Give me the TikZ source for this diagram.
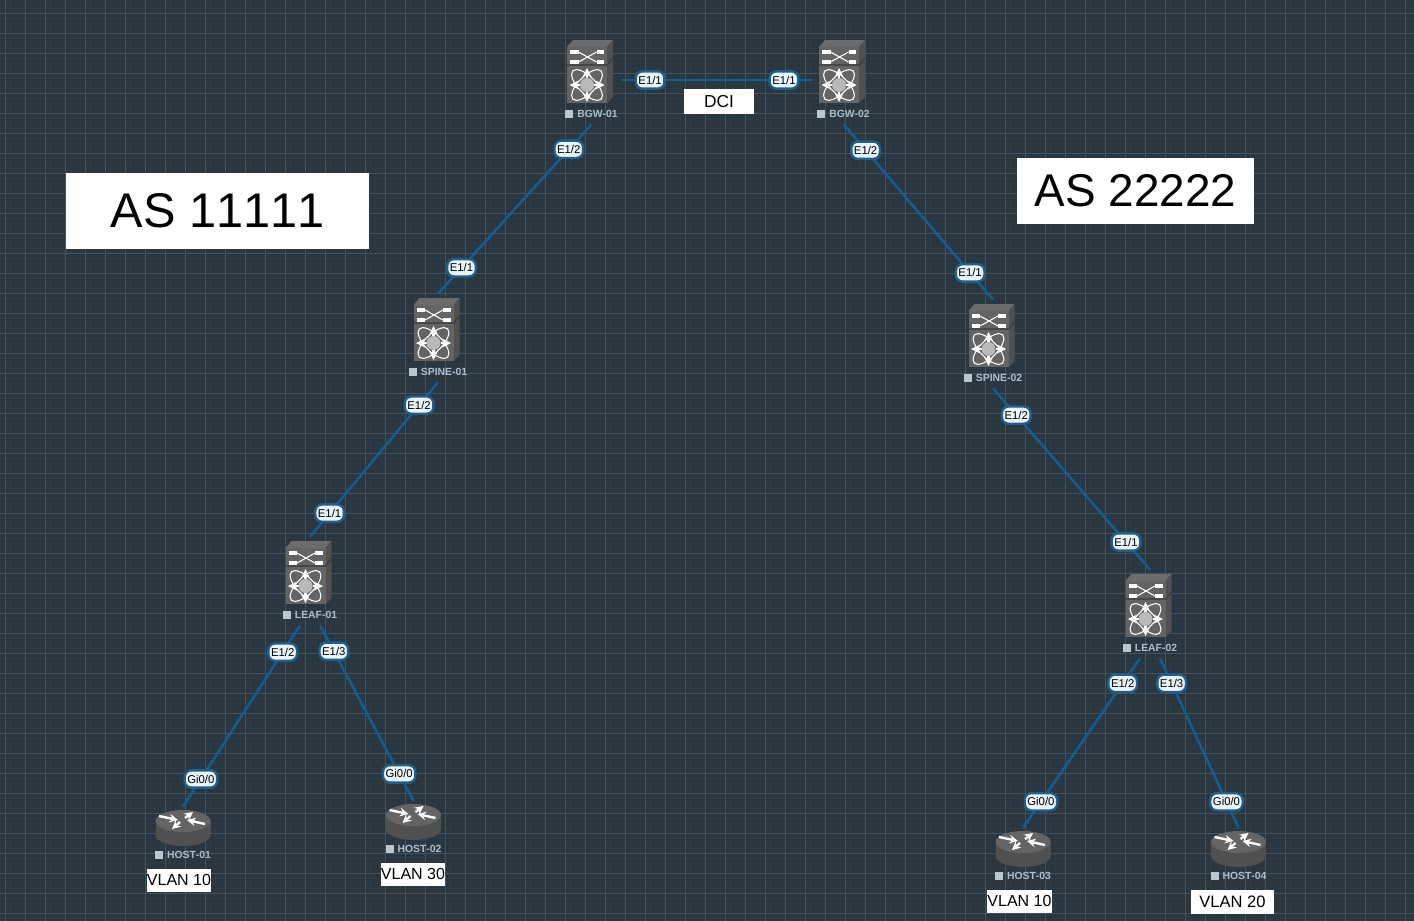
\documentclass[tikz,border=0pt]{standalone}
\usepackage{fontspec}
\usepackage{xcolor}
\usepackage{tikz}
\usetikzlibrary{arrows,calc,positioning}
\setmainfont[Kerning=Off]{Liberation Sans}

\definecolor{canvasbg}{HTML}{29353F}
\definecolor{gridminor}{HTML}{2D3943}
\definecolor{gridmajor}{HTML}{44535D}
\definecolor{linkblue}{HTML}{0F5F96}
\definecolor{ifaceedge}{HTML}{1F5F8C}
\definecolor{ifacefill}{HTML}{EAF4FA}
\definecolor{devtext}{HTML}{A9C0CC}
\definecolor{devsquare}{HTML}{B8C8D0}
\definecolor{iconfront}{HTML}{646464}
\definecolor{icontop}{HTML}{6C6C6C}
\definecolor{iconside}{HTML}{505050}
\definecolor{icondark}{HTML}{3A3A3A}

\newcommand{\devsq}{\textcolor{devsquare}{\rule{6pt}{6pt}}\hspace{3pt}}

\tikzset{
    nxos/.pic={
        \fill[icontop] (-24.5,-33) -- (-18.5,-40) -- (21.5,-40) -- (15.5,-33) -- cycle;
        \fill[iconside] (15.5,-33) -- (21.5,-40) -- (21.5,17) -- (15.5,23) -- cycle;
        \fill[iconfront] (-24.5,-33) rectangle (15.5,23);
        \draw[icondark, line width=0.9pt] (-24.5,-15) -- (15.5,-15) -- (21.5,-22);
        \draw[white, line width=2.6pt] (-21.5,-28) -- (-13,-28) (5,-28) -- (12.5,-28);
        \draw[white, line width=2.6pt] (-21.5,-18) -- (-13,-18) (5,-18) -- (12.5,-18);
        \draw[white, line width=0.8pt] (-13,-28) -- (5,-18) (-13,-18) -- (5,-28);
        \draw[white, line width=0.8pt, rotate around={45:(-4.5,5)}] (-4.5,5) ellipse [x radius=20, y radius=8.5];
        \draw[white, line width=0.8pt, rotate around={-45:(-4.5,5)}] (-4.5,5) ellipse [x radius=20, y radius=8.5];
        \draw[white, line width=1.9pt, ->, >=stealth] (-4.5,-2) -- (-4.5,-12);
        \draw[white, line width=1.9pt, ->, >=stealth] (-4.5,12) -- (-4.5,22);
        \draw[white, line width=1.9pt, ->, >=stealth] (-11.5,5) -- (-22,5);
        \draw[white, line width=1.9pt, ->, >=stealth] (2.5,5) -- (13,5);
        \fill[iconfront!45!white] (-4.5,5) circle [radius=7];
    },
    router/.pic={
        \fill[iconside] (0,8) ellipse [x radius=27.5, y radius=11];
        \fill[iconside] (-27.5,-6) rectangle (27.5,8);
        \fill[iconfront] (0,-6) ellipse [x radius=27.5, y radius=11];
        \draw[white, line width=1.8pt, ->, >=stealth] (-24,-11) -- (-5,-7);
        \draw[white, line width=1.8pt, ->, >=stealth] (2,-9) -- (10,-15);
        \draw[white, line width=1.8pt, ->, >=stealth] (22,-3) -- (4,-7);
        \draw[white, line width=1.8pt, ->, >=stealth] (-3,-5) -- (-11,2);
    }
}

\begin{document}
\begin{tikzpicture}[
    x=0.75pt, y=-0.75pt,
    swbox/.style={minimum width=45pt, minimum height=66pt, inner sep=0pt},
    rtbox/.style={minimum width=41.25pt, minimum height=30pt, inner sep=0pt},
    devname/.style={inner sep=0pt, text=devtext, font=\fontsize{7.8}{9}\selectfont\bfseries},
    link/.style={draw=linkblue, line width=1.9pt},
    iface/.style={draw=ifaceedge, fill=ifacefill, line width=1.8pt, rounded corners=5pt, inner xsep=2pt, inner ysep=0pt, minimum height=13pt, text=black, font=\fontsize{8.5}{10}\selectfont},
    nearsrc/.style={pos=0.148},
    neardst/.style={pos=0.847},
    whitebox/.style={fill=white, inner sep=0pt, text=black, align=center}
]

\useasboundingbox (0,0) rectangle (1414,921);
\fill[canvasbg] (0,0) rectangle (1414,921);

% grid
\foreach \gx in {0,5,...,1410} {\draw[gridminor, line width=0.4pt] (\gx,0) -- (\gx,921);}
\foreach \gy in {3,8,...,918} {\draw[gridminor, line width=0.4pt] (0,\gy) -- (1414,\gy);}
\foreach \gx in {5,25,...,1405} {\draw[gridmajor, line width=0.6pt] (\gx,0) -- (\gx,921);}
\foreach \gy in {13,33,...,913} {\draw[gridmajor, line width=0.6pt] (0,\gy) -- (1414,\gy);}

% switches
\node[swbox] (bgw1) at (591.5,80) {};
\node[swbox] (bgw2) at (843.5,80) {};
\node[swbox] (spine1) at (438,338) {};
\node[swbox] (spine2) at (993,344) {};
\node[swbox] (leaf1) at (310,581) {};
\node[swbox] (leaf2) at (1150,614) {};

% hosts
\node[rtbox] (host1) at (183,827) {};
\node[rtbox] (host2) at (413.5,821) {};
\node[rtbox] (host3) at (1023,848) {};
\node[rtbox] (host4) at (1238.5,848) {};

\pic at (bgw1.center) {nxos};
\pic at (bgw2.center) {nxos};
\pic at (spine1.center) {nxos};
\pic at (spine2.center) {nxos};
\pic at (leaf1.center) {nxos};
\pic at (leaf2.center) {nxos};
\pic at (host1.center) {router};
\pic at (host2.center) {router};
\pic at (host3.center) {router};
\pic at (host4.center) {router};

\node[devname] at ([yshift=-25.5pt]bgw1.center) (bgw1name) {\devsq BGW-01};
\node[devname] at ([yshift=-25.5pt]bgw2.center) (bgw2name) {\devsq BGW-02};
\node[devname] at ([yshift=-25.5pt]spine1.center) (spine1name) {\devsq SPINE-01};
\node[devname] at ([yshift=-25.5pt]spine2.center) (spine2name) {\devsq SPINE-02};
\node[devname] at ([yshift=-25.5pt]leaf1.center) (leaf1name) {\devsq LEAF-01};
\node[devname] at ([yshift=-25.5pt]leaf2.center) (leaf2name) {\devsq LEAF-02};
\node[devname] at ([yshift=-21pt]host1.center) (host1name) {\devsq HOST-01};
\node[devname] at ([yshift=-21pt]host2.center) (host2name) {\devsq HOST-02};
\node[devname] at ([yshift=-21pt]host3.center) (host3name) {\devsq HOST-03};
\node[devname] at ([yshift=-21pt]host4.center) (host4name) {\devsq HOST-04};

% links
\draw[link] (bgw1.east) -- node[iface, nearsrc] (bgw1a) {E1/1} node[iface, neardst] (bgw2a) {E1/1} (bgw2.west);
\draw[link] (bgw1.south) -- node[iface, nearsrc] (bgw1b) {E1/2} node[iface, neardst] (spine1a) {E1/1} (spine1.north);
\draw[link] (bgw2.south) -- node[iface, nearsrc] (bgw2b) {E1/2} node[iface, neardst] (spine2a) {E1/1} (spine2.north);
\draw[link] (spine1.south) -- node[iface, nearsrc] (spine1b) {E1/2} node[iface, neardst] (leaf1a) {E1/1} (leaf1.north);
\draw[link] (spine2.south) -- node[iface, nearsrc] (spine2b) {E1/2} node[iface, neardst] (leaf2a) {E1/1} (leaf2.north);
\draw[link] ($(leaf1.south)+(-10,0)$) -- node[iface, nearsrc] (leaf1b) {E1/2} node[iface, neardst] (host1a) {Gi0/0} (host1.north);
\draw[link] ($(leaf1.south)+(10,0)$) -- node[iface, nearsrc] (leaf1c) {E1/3} node[iface, neardst] (host2a) {Gi0/0} (host2.north);
\draw[link] ($(leaf2.south)+(-10,0)$) -- node[iface, nearsrc] (leaf2b) {E1/2} node[iface, neardst] (host3a) {Gi0/0} (host3.north);
\draw[link] ($(leaf2.south)+(10,0)$) -- node[iface, nearsrc] (leaf2c) {E1/3} node[iface, neardst] (host4a) {Gi0/0} (host4.north);

% text boxes
\node[whitebox, minimum width=227.25pt, minimum height=57pt, font=\fontsize{36.5}{40}\selectfont] (as1) at (217.5,211) {AS 11111};
\node[whitebox, minimum width=177.75pt, minimum height=49.5pt, font=\fontsize{34.4}{38}\selectfont] (as2) at (1135.5,191) {AS 22222};
\node[whitebox, minimum width=52.5pt, minimum height=18.75pt, font=\fontsize{13}{15}\selectfont] (dci) at (719,101.5) {DCI};
\node[whitebox, minimum width=48pt, minimum height=17.25pt, font=\fontsize{12}{14}\selectfont] (vlan1) at (179,880.5) {\raisebox{1pt}{VLAN 10}};
\node[whitebox, minimum width=48pt, minimum height=17.25pt, font=\fontsize{12}{14}\selectfont] (vlan2) at (413,874.5) {\raisebox{1pt}{VLAN 30}};
\node[whitebox, minimum width=48.75pt, minimum height=17.25pt, font=\fontsize{12}{14}\selectfont] (vlan3) at (1019.5,901.5) {\raisebox{1pt}{VLAN 10}};
\node[whitebox, minimum width=62.25pt, minimum height=18pt, font=\fontsize{12.4}{14}\selectfont] (vlan4) at (1232.5,902) {VLAN 20};

\end{tikzpicture}
\end{document}
